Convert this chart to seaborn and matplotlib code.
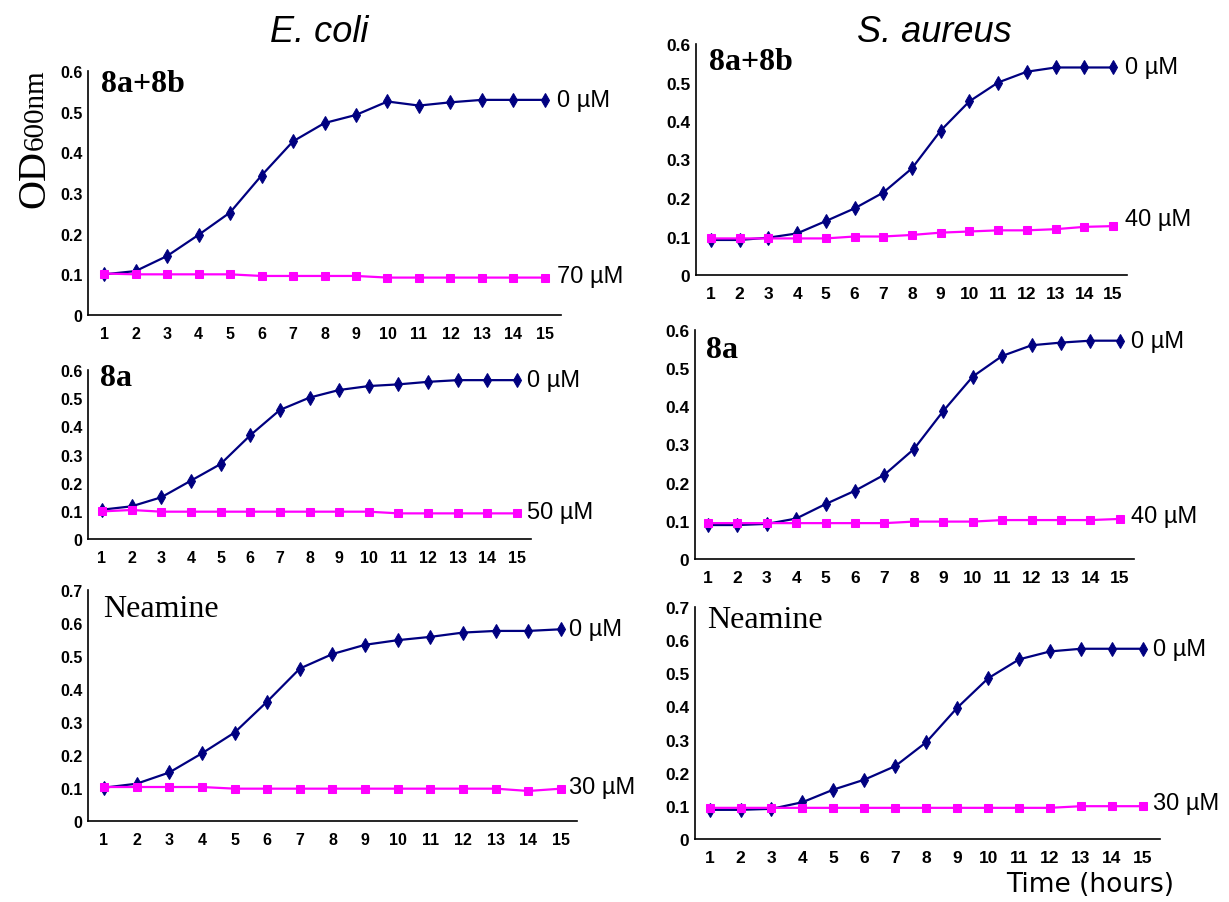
import numpy as np
import pandas as pd
import matplotlib
matplotlib.use("Agg")
import matplotlib.pyplot as plt
from matplotlib.ticker import FuncFormatter, FixedLocator
import seaborn as sns

# ---- data: OD600 readings over 15 hours ----
hours = [1, 2, 3, 4, 5, 6, 7, 8, 9, 10, 11, 12, 13, 14, 15]

ecoli_8a8b_0 = [0.100, 0.108, 0.145, 0.197, 0.252, 0.343, 0.427, 0.472, 0.492, 0.525, 0.515, 0.523, 0.529, 0.529, 0.529]
ecoli_8a8b_70 = [0.102, 0.100, 0.100, 0.100, 0.100, 0.096, 0.096, 0.096, 0.096, 0.092, 0.092, 0.092, 0.092, 0.092, 0.092]

saureus_8a8b_0 = [0.091, 0.091, 0.097, 0.108, 0.140, 0.173, 0.214, 0.277, 0.375, 0.451, 0.500, 0.528, 0.539, 0.539, 0.539]
saureus_8a8b_40 = [0.095, 0.095, 0.095, 0.095, 0.095, 0.100, 0.100, 0.104, 0.110, 0.113, 0.116, 0.116, 0.119, 0.125, 0.127]

ecoli_8a_0 = [0.104, 0.116, 0.148, 0.207, 0.266, 0.368, 0.458, 0.502, 0.529, 0.543, 0.549, 0.558, 0.564, 0.564, 0.564]
ecoli_8a_50 = [0.098, 0.103, 0.097, 0.097, 0.097, 0.097, 0.097, 0.097, 0.097, 0.097, 0.091, 0.091, 0.091, 0.091, 0.091]

saureus_8a_0 = [0.089, 0.089, 0.092, 0.106, 0.144, 0.179, 0.221, 0.288, 0.388, 0.478, 0.532, 0.560, 0.567, 0.572, 0.572]
saureus_8a_40 = [0.094, 0.094, 0.094, 0.094, 0.094, 0.094, 0.094, 0.098, 0.098, 0.098, 0.102, 0.102, 0.102, 0.102, 0.105]

ecoli_nea_0 = [0.101, 0.113, 0.147, 0.205, 0.268, 0.362, 0.462, 0.506, 0.534, 0.548, 0.558, 0.571, 0.576, 0.576, 0.581]
ecoli_nea_30 = [0.103, 0.103, 0.103, 0.103, 0.098, 0.098, 0.098, 0.098, 0.098, 0.098, 0.098, 0.098, 0.098, 0.091, 0.098]

saureus_nea_0 = [0.088, 0.088, 0.091, 0.111, 0.149, 0.179, 0.220, 0.292, 0.396, 0.485, 0.542, 0.566, 0.574, 0.574, 0.574]
saureus_nea_30 = [0.094, 0.094, 0.094, 0.094, 0.094, 0.094, 0.094, 0.094, 0.094, 0.094, 0.094, 0.094, 0.099, 0.099, 0.099]

organisms = ["E. coli", "S. aureus"]
compounds = ["8a+8b", "8a", "Neamine"]
control_label = "0 µM"
dose_labels = ["70 µM", "40 µM", "50 µM", "40 µM", "30 µM", "30 µM"]

NAVY = "#000080"
MAGENTA = "#FF00FF"

sns.set_theme(style="white")
plt.rcParams["font.family"] = ["Liberation Sans", "DejaVu Sans"]

W, H = 1229, 903
fig = plt.figure(figsize=(W / 100, H / 100), dpi=100)
fig.patch.set_facecolor("white")


def rect(left, right, top, bottom):
    return [left / W, 1 - bottom / H, (right - left) / W, (bottom - top) / H]


# panel layout: axes rect, y-range top, x-range, tick font size, compound name and its position
panels = [
    dict(r=rect(88, 561, 72, 316), ytop=0.6, xlim=(0.49, 15.51), fs=11.5,
         ctrl=ecoli_8a8b_0, dose=ecoli_8a8b_70, dlabel=dose_labels[0],
         name=compounds[0], npos=(101, 85), bold=True, dx=9, ddy=1),
    dict(r=rect(696, 1127, 45, 276), ytop=0.6, xlim=(0.48, 15.49), fs=12.5,
         ctrl=saureus_8a8b_0, dose=saureus_8a8b_40, dlabel=dose_labels[1],
         name=compounds[0], npos=(709, 62), bold=True, dx=9, ddy=5),
    dict(r=rect(88, 531, 371, 540), ytop=0.6, xlim=(0.53, 15.47), fs=11.5,
         ctrl=ecoli_8a_0, dose=ecoli_8a_50, dlabel=dose_labels[2],
         name=compounds[1], npos=(100, 378), bold=True, dx=7, ddy=1),
    dict(r=rect(695, 1134, 331, 560), ytop=0.6, xlim=(0.56, 15.48), fs=12.5,
         ctrl=saureus_8a_0, dose=saureus_8a_40, dlabel=dose_labels[3],
         name=compounds[1], npos=(706, 350), bold=True, dx=8, ddy=2),
    dict(r=rect(88, 577, 591, 822), ytop=0.7, xlim=(0.51, 15.49), fs=11.5,
         ctrl=ecoli_nea_0, dose=ecoli_nea_30, dlabel=dose_labels[4],
         name=compounds[2], npos=(103, 610), bold=False, dx=6, ddy=1),
    dict(r=rect(695, 1160, 608, 840), ytop=0.7, xlim=(0.53, 15.55), fs=12.5,
         ctrl=saureus_nea_0, dose=saureus_nea_30, dlabel=dose_labels[5],
         name=compounds[2], npos=(707, 621), bold=False, dx=7, ddy=2),
]

fmt = FuncFormatter(lambda v, _: "0" if abs(v) < 1e-9 else f"{v:.1f}")

for p in panels:
    ax = fig.add_axes(p["r"])
    ax.set_facecolor("white")
    df = pd.DataFrame({"hour": hours, "ctrl": p["ctrl"], "dose": p["dose"]})
    sns.lineplot(data=df, x="hour", y="ctrl", ax=ax, color=NAVY, linewidth=1.6,
                 marker="d", markersize=7, markeredgecolor=NAVY, markerfacecolor=NAVY,
                 errorbar=None)
    sns.lineplot(data=df, x="hour", y="dose", ax=ax, color=MAGENTA, linewidth=1.6,
                 marker="s", markersize=6, markeredgecolor=MAGENTA, markerfacecolor=MAGENTA,
                 errorbar=None)
    ax.set_xlim(*p["xlim"])
    ax.set_ylim(0, p["ytop"])
    ax.set_xlabel("")
    ax.set_ylabel("")
    sns.despine(ax=ax)
    for s in ("left", "bottom"):
        ax.spines[s].set_color("black")
        ax.spines[s].set_linewidth(1.2)

    ax.yaxis.set_major_locator(FixedLocator(np.round(np.arange(0, p["ytop"] + 0.001, 0.1), 1)))
    ax.yaxis.set_major_formatter(fmt)
    ax.tick_params(axis="y", which="major", direction="out", length=3, width=1.2,
                   color="black", pad=1, labelsize=p["fs"])
    ax.xaxis.set_major_locator(FixedLocator(hours))
    ax.xaxis.set_minor_locator(FixedLocator(np.arange(0.5, 16.0, 1.0)))
    ax.tick_params(axis="x", which="major", length=0, pad=8, labelsize=p["fs"])
    ax.tick_params(axis="x", which="minor", direction="out", length=4, width=1.2, color="black")
    for lab in ax.get_xticklabels() + ax.get_yticklabels():
        lab.set_fontweight("bold")
        lab.set_color("black")

    # concentration labels at the end of each series
    ax.annotate(control_label, xy=(hours[-1], p["ctrl"][-1]), xytext=(p["dx"], 0),
                textcoords="offset points", ha="left", va="center", fontsize=17, color="black")
    ax.annotate(p["dlabel"], xy=(hours[-1], p["dose"][-1]), xytext=(p["dx"], p["ddy"]),
                textcoords="offset points", ha="left", va="center", fontsize=17, color="black")

    nx, ny = p["npos"]
    fig.text(nx / W, 1 - ny / H, p["name"], family="Liberation Serif",
             fontweight="bold" if p["bold"] else "normal", fontsize=23,
             ha="left", va="center", color="black")

# column titles
fig.text(319 / W, 1 - 32 / H, organisms[0], fontsize=26, style="italic",
         ha="center", va="center", color="black")
fig.text(934 / W, 1 - 32 / H, organisms[1], fontsize=26, style="italic",
         ha="center", va="center", color="black")

# shared y label: OD with a 600nm subscript, read bottom to top
fig.text(44 / W, 1 - 208 / H, "OD", family="Liberation Serif", fontsize=29,
         rotation=90, rotation_mode="anchor", ha="left", va="baseline", color="black")
fig.text(43 / W, 1 - 150 / H, "600nm", family="Liberation Serif", fontsize=21,
         rotation=90, rotation_mode="anchor", ha="left", va="baseline", color="black")

# shared x label
fig.text(1090 / W, 1 - 885 / H, "Time (hours)", family="DejaVu Sans", fontsize=19,
         ha="center", va="center", color="black")

fig.savefig("out.png", dpi=100, facecolor="white")
